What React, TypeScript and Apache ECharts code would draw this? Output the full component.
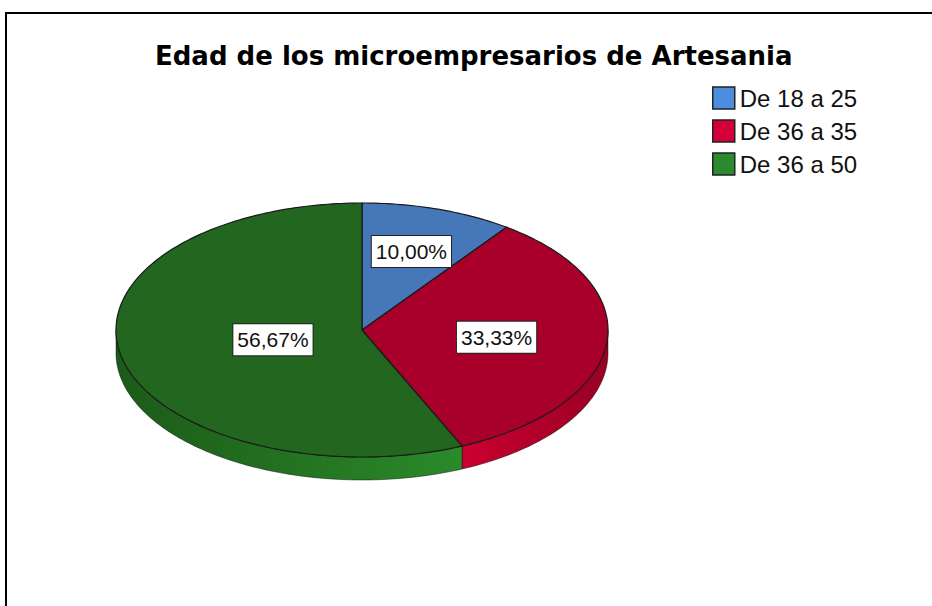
import React, { useEffect, useRef } from "react";
import * as echarts from "echarts";

const TITLE = "Edad de los microempresarios de Artesania";
const categories = ["De 18 a 25", "De 36 a 35", "De 36 a 50"];
const counts = [3, 10, 17];
const legendColors = ["#4C8EDD", "#D3003A", "#2A8A2D"];
const topColors = ["#4677B9", "#A8002A", "#22661F"];
const sideLight = ["#5A8ED0", "#CC0030", "#2B8A29"];
const sideDark = ["#3A66A0", "#980024", "#1C5A19"];
const labelRadius = [0.65, 0.55, 0.37];

const CX = 362;
const CY = 330;
const RX = 246;
const RY = 127;
const DEPTH = 23;

function pt(deg: number, dy = 0): number[] {
  const r = (deg * Math.PI) / 180;
  return [CX + RX * Math.sin(r), CY - RY * Math.cos(r) + dy];
}
function arc(a: number, b: number, dy = 0): number[][] {
  const pts: number[][] = [];
  const n = Math.max(2, Math.ceil((b - a) / 1));
  for (let i = 0; i <= n; i++) pts.push(pt(a + ((b - a) * i) / n, dy));
  return pts;
}

export default function App() {
  const ref = useRef<HTMLDivElement>(null);
  useEffect(() => {
    if (!ref.current) return;
    const chart = echarts.init(ref.current, undefined, { renderer: "svg" });
    const total = counts.reduce((s, v) => s + v, 0);

    const renderItem = (params: any, api: any) => {
      const k = params.seriesIndex;
      let before = 0;
      for (let i = 0; i < k; i++) before += counts[i];
      const value = api.value(0);
      const start = (before / total) * 360;
      const end = start + (value / total) * 360;
      const children: any[] = [];
      const s = Math.max(start, 90);
      const e = Math.min(end, 270);
      if (e > s) {
        const topArc = arc(s, e);
        const botArc = arc(s, e, DEPTH).reverse();
        const leftIsLight = k === 1;
        children.push({
          type: "polygon",
          shape: { points: topArc.concat(botArc) },
          style: {
            fill: new echarts.graphic.LinearGradient(0, 0, 1, 0, [
              { offset: 0, color: leftIsLight ? sideLight[k] : sideDark[k] },
              { offset: 1, color: leftIsLight ? sideDark[k] : sideLight[k] },
            ]),
            stroke: "rgba(0,0,0,0.55)",
            lineWidth: 0.8,
          },
        });
      }
      children.push({
        type: "polygon",
        shape: { points: [[CX, CY]].concat(arc(start, end)) },
        style: { fill: topColors[k], stroke: "#1a1a1a", lineWidth: 1.2 },
      });
      const mid = (start + end) / 2;
      const mr = (mid * Math.PI) / 180;
      const lx = CX + RX * labelRadius[k] * Math.sin(mr);
      const ly = CY - RY * labelRadius[k] * Math.cos(mr);
      const pct = ((value / total) * 100).toFixed(2).replace(".", ",") + "%";
      children.push({
        type: "text",
        x: lx,
        y: ly,
        z2: 100,
        style: {
          text: pct,
          fontSize: 21,
          fontFamily: "Liberation Sans, Arial, sans-serif",
          fill: "#111",
          align: "center",
          verticalAlign: "middle",
          lineHeight: 22,
          backgroundColor: "#ffffff",
          borderColor: "#222",
          borderWidth: 1,
          padding: [5, 4, 4, 4],
        },
      });
      return { type: "group", children };
    };

    chart.setOption({
      animation: false,
      backgroundColor: "#ffffff",
      title: {
        text: TITLE,
        left: 155,
        top: 43,
        padding: 0,
        textStyle: {
          fontFamily: "DejaVu Sans",
          fontWeight: "bold",
          fontSize: 26,
          color: "#000",
        },
      },
      legend: {
        orient: "vertical",
        left: 712,
        top: 86,
        padding: 0,
        itemWidth: 22,
        itemHeight: 22,
        itemGap: 9,
        icon: "rect",
        selectedMode: false,
        data: categories,
        itemStyle: { borderColor: "#222", borderWidth: 1.5 },
        textStyle: {
          fontFamily: "Liberation Sans, Arial, sans-serif",
          fontSize: 24,
          lineHeight: 24,
          color: "#111",
        },
      },
      graphic: [
        {
          type: "rect",
          shape: { x: 6, y: 13, width: 1000, height: 700 },
          style: { fill: "none", stroke: "#000", lineWidth: 2 },
          silent: true,
        },
      ],
      series: categories.map((name, i) => ({
        type: "custom",
        name,
        coordinateSystem: "none",
        renderItem,
        itemStyle: { color: legendColors[i] },
        data: [[counts[i]]],
      })),
    });
    return () => chart.dispose();
  }, []);
  return (
    <div
      ref={ref}
      style={{ position: "fixed", left: 0, top: 0, width: 932, height: 606, background: "#fff" }}
    />
  );
}
